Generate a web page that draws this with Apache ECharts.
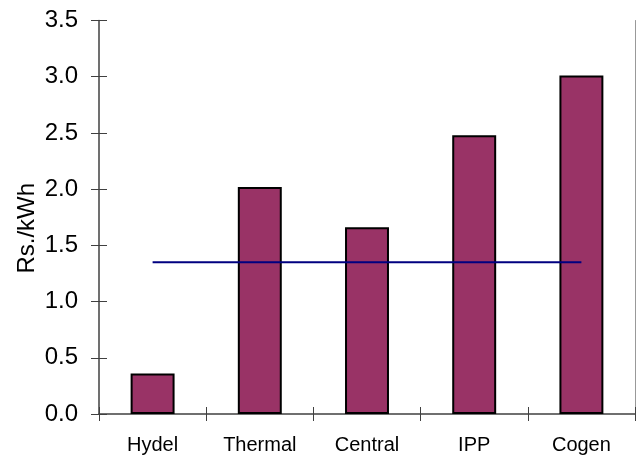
<!DOCTYPE html>
<html><head><meta charset="utf-8">
<script src="https://cdn.jsdelivr.net/npm/echarts@6/dist/echarts.min.js"></script>
<style>html,body{margin:0;padding:0;background:#fff}#c{width:636px;height:455px}</style>
</head><body><div id="c"></div>
<script>
const categories = ['Hydel', 'Thermal', 'Central', 'IPP', 'Cogen'];
const costValues = [0.36, 2.02, 1.66, 2.48, 3.01];
const averageValues = [1.35, 1.35, 1.35, 1.35, 1.35];
const yAxisName = 'Rs./kWh';

const font = 'Liberation Sans, Arial, sans-serif';
const axisCol = '#404040';
const chart = echarts.init(document.getElementById('c'));
chart.setOption({
  animation: false,
  backgroundColor: '#fff',
  grid: { left: 99, right: 1, top: 20.5, bottom: 40 },
  xAxis: [{
    type: 'category', data: categories, boundaryGap: true,
    axisLine: { lineStyle: { color: axisCol, width: 1.5 } },
    axisTick: { show: true, length: 7, inside: false, lineStyle: { color: axisCol } },
    axisLabel: { color: '#000', fontFamily: font, fontSize: 20, margin: 21 }
  }, {
    type: 'category', data: categories, position: 'bottom',
    axisLine: { show: false },
    axisTick: { show: true, length: 7, inside: true, lineStyle: { color: axisCol } },
    axisLabel: { show: false }
  }],
  yAxis: [{
    type: 'value', min: 0, max: 3.5, interval: 0.5,
    name: yAxisName, nameLocation: 'middle', nameGap: 60, nameMoveOverlap: false,
    nameTextStyle: { color: '#000', fontFamily: font, fontSize: 24, padding: [0, 22, 0, 0] },
    splitLine: { show: false },
    axisLine: { show: true, lineStyle: { color: axisCol, width: 1.5 } },
    axisTick: { show: true, length: 8, inside: false, lineStyle: { color: axisCol } },
    axisLabel: { color: '#000', fontFamily: font, fontSize: 24, margin: 21,
      formatter: v => v.toFixed(1) }
  }, {
    type: 'value', min: 0, max: 3.5, interval: 0.5, position: 'left',
    splitLine: { show: false },
    axisLine: { show: false },
    axisTick: { show: true, length: 8, inside: true, lineStyle: { color: axisCol } },
    axisLabel: { show: false }
  }, {
    type: 'value', min: 0, max: 3.5, interval: 0.5, position: 'right',
    splitLine: { show: false },
    axisLine: { show: true, lineStyle: { color: '#999', width: 1 } },
    axisTick: { show: false }, axisLabel: { show: false }
  }],
  series: [{
    type: 'bar', data: costValues, barWidth: '41%',
    itemStyle: { color: '#993366', borderColor: '#000', borderWidth: 2 }
  }, {
    type: 'line', data: averageValues, symbol: 'none',
    lineStyle: { color: '#000080', width: 2 }, z: 5
  }]
});
</script></body></html>
